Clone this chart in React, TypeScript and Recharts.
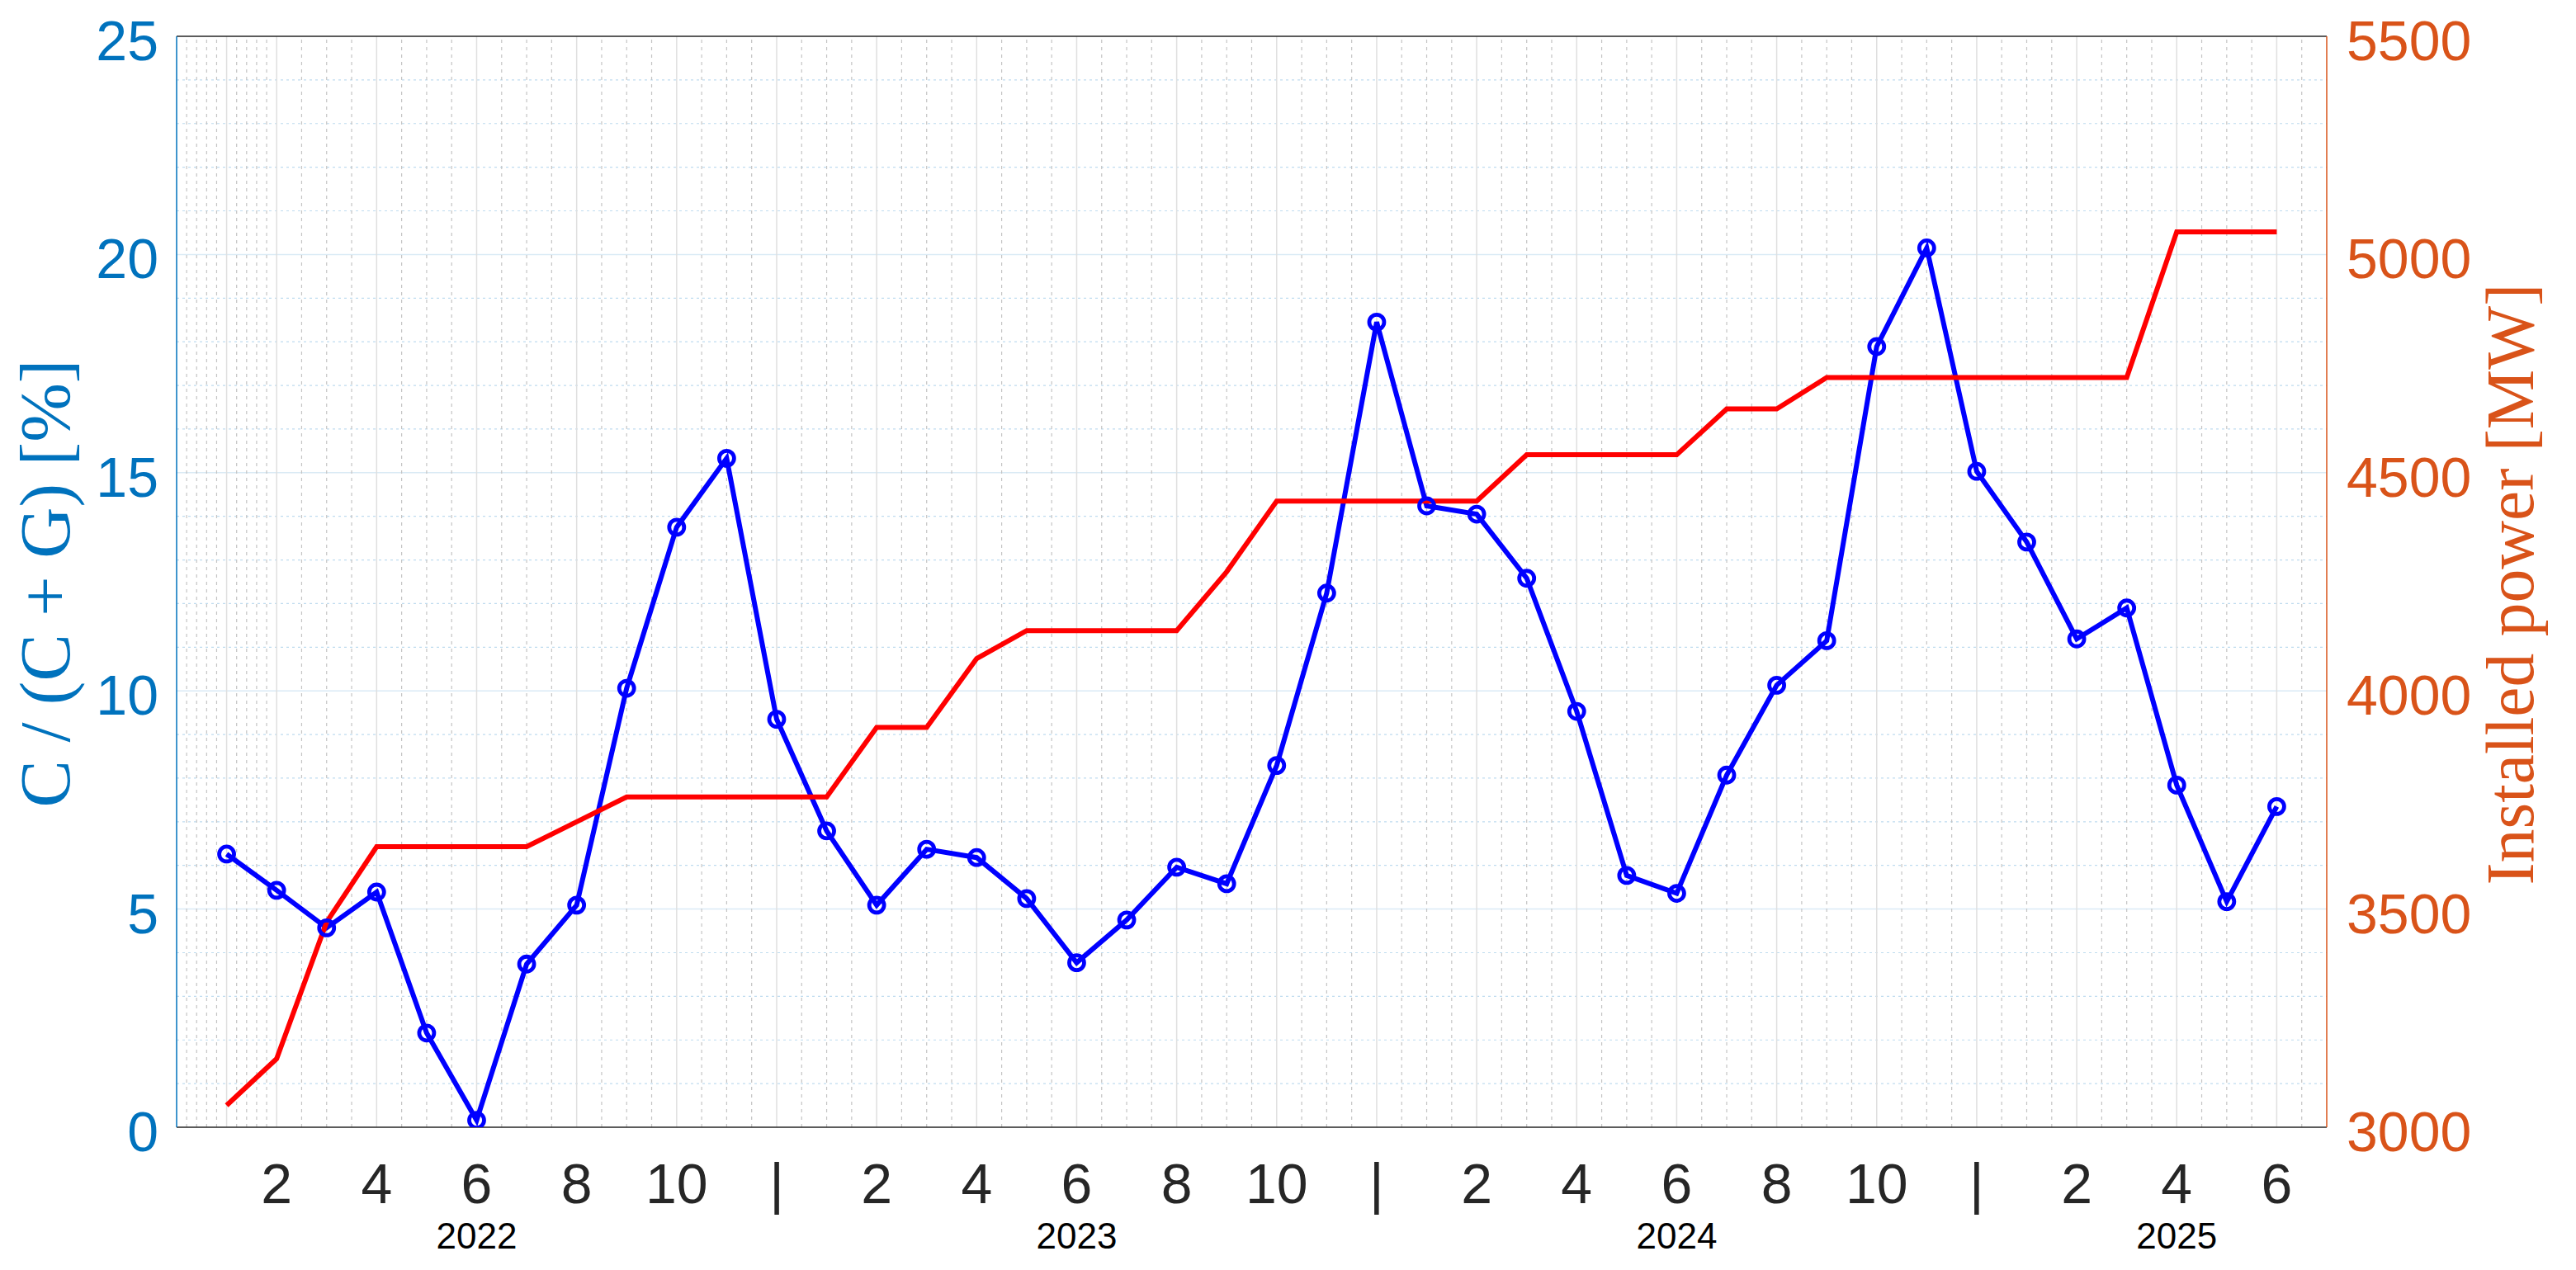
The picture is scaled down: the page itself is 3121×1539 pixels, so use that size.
import React from 'react';
import { ComposedChart, Line, XAxis, YAxis, ReferenceLine } from 'recharts';

// ---- data ----
const monthIdx = [
  0, 1, 2, 3, 4, 5, 6, 7, 8, 9, 10, 11,
  12, 13, 14, 15, 16, 17, 18, 19, 20, 21, 22, 23,
  24, 25, 26, 27, 28, 29, 30, 31, 32, 33, 34, 35,
  36, 37, 38, 39, 40, 41,
];
const ratioPct = [
  6.26, 5.43, 4.57, 5.39, 2.16, 0.16, 3.74, 5.09, 10.06, 13.75, 15.33, 9.35,
  6.79, 5.09, 6.37, 6.18, 5.24, 3.77, 4.75, 5.96, 5.58, 8.29, 12.24, 18.45,
  14.24, 14.05, 12.58, 9.53, 5.77, 5.36, 8.07, 10.13, 11.15, 17.89, 20.15, 15.03,
  13.41, 11.19, 11.9, 7.84, 5.17, 7.35,
];
const installedMW = [
  3050, 3157, 3470, 3643, 3643, 3643, 3643, 3700, 3757, 3757, 3757, 3757,
  3757, 3916, 3916, 4074, 4138, 4138, 4138, 4138, 4273, 4435, 4435, 4435,
  4435, 4435, 4541, 4541, 4541, 4541, 4646, 4646, 4718, 4718, 4718, 4718,
  4718, 4718, 4718, 5052, 5052, 5052,
];
const xTickValues = [1, 3, 5, 7, 9, 11, 13, 15, 17, 19, 21, 23, 25, 27, 29, 31, 33, 35, 37, 39, 41];
const xTickLabels = [
  '2', '4', '6', '8', '10', '|',
  '2', '4', '6', '8', '10', '|',
  '2', '4', '6', '8', '10', '|',
  '2', '4', '6',
];
const yearLabels = ['2022', '2023', '2024', '2025'];
const yearLabelAt = [5, 17, 29, 39];
const leftTicks = [0, 5, 10, 15, 20, 25];
const rightTicks = [3000, 3500, 4000, 4500, 5000, 5500];

const data = monthIdx.map((m, i) => ({ m, ratio: ratioPct[i], power: installedMW[i] }));

// ---- grid positions (axis units) ----
const xMajorGrid = [0, ...xTickValues];
const xMinorGrid: number[] = [-0.8, -0.6, -0.4, -0.2, 0.2, 0.4, 0.6, 0.8];
for (let v = 1.5; v <= 41.5; v += 0.5) {
  if (!(Number.isInteger(v) && v % 2 === 1)) xMinorGrid.push(v);
}
const yMinorGrid: number[] = [];
for (let v = 1; v < 25; v++) if (v % 5 !== 0) yMinorGrid.push(v);
const yMajorGrid = [5, 10, 15, 20];

const BLUE_AX = '#0072BD';
const ORANGE_AX = '#D95319';
const DARK = '#262626';
const SANS = '"Liberation Sans", Arial, Helvetica, sans-serif';
const SERIF = '"Liberation Serif", "Times New Roman", serif';

const XTick = (props: any) => {
  const { x, y, payload } = props;
  const i = xTickValues.indexOf(payload.value);
  const yi = yearLabelAt.indexOf(payload.value);
  return (
    <g>
      <text x={x} y={y + 92} textAnchor="middle" fontFamily={SANS} fontSize={68} fill={DARK}>
        {xTickLabels[i]}
      </text>
      {yi >= 0 && (
        <text x={x} y={y + 147} textAnchor="middle" fontFamily={SANS} fontSize={44} fill="#000">
          {yearLabels[yi]}
        </text>
      )}
    </g>
  );
};

const LeftTick = (props: any) => (
  <text x={props.x} y={props.y + 29} textAnchor="end" fontFamily={SANS} fontSize={68} fill={BLUE_AX}>
    {props.payload.value}
  </text>
);
const RightTick = (props: any) => (
  <text x={props.x} y={props.y + 29} textAnchor="start" fontFamily={SANS} fontSize={68} fill={ORANGE_AX}>
    {props.payload.value}
  </text>
);

const LeftLabel = (props: any) => {
  const vb = props.viewBox;
  const x = vb.x + 76;
  const y = vb.y + vb.height / 2 + 2;
  return (
    <text x={x} y={y} transform={`rotate(-90, ${x}, ${y})`} textAnchor="middle" fontFamily={SERIF} fontSize={86} fill={BLUE_AX}>
      C / (C + G) [%]
    </text>
  );
};
const RightLabel = (props: any) => {
  const vb = props.viewBox;
  const x = vb.x + 250;
  const y = vb.y + vb.height / 2 + 3;
  return (
    <text x={x} y={y} transform={`rotate(-90, ${x}, ${y})`} textAnchor="middle" fontFamily={SERIF} fontSize={81.5} fill={ORANGE_AX}>
      Installed power [MW]
    </text>
  );
};

export default function App() {
  return (
    <div style={{ width: 3105, height: 1523, background: '#fff' }}>
      <ComposedChart width={3105} height={1523} data={data} margin={{ top: 36, right: 0, bottom: 0, left: 0 }}>
        {yMinorGrid.map((v) => (
          <ReferenceLine key={'ym' + v} y={v} yAxisId="left" stroke="#BFDCEF" strokeWidth={1.2} strokeDasharray="3 4" />
        ))}
        {yMajorGrid.map((v) => (
          <ReferenceLine key={'yM' + v} y={v} yAxisId="left" stroke="#D9EAF5" strokeWidth={1.5} />
        ))}
        {xMinorGrid.map((v) => (
          <ReferenceLine key={'xm' + v} x={v} yAxisId="left" stroke="#C4C4C4" strokeWidth={1.2} strokeDasharray="4 5" />
        ))}
        {xMajorGrid.map((v) => (
          <ReferenceLine key={'xM' + v} x={v} yAxisId="left" stroke="#DFDFDF" strokeWidth={1.5} />
        ))}
        <ReferenceLine y={25} yAxisId="left" stroke={DARK} strokeWidth={1.5} />
        <XAxis
          dataKey="m"
          type="number"
          domain={[-1, 42]}
          ticks={xTickValues}
          interval={0}
          allowDataOverflow
          height={165}
          tickSize={0}
          tickMargin={0}
          tickLine={false}
          axisLine={{ stroke: DARK, strokeWidth: 1.5 }}
          tick={XTick}
        />
        <YAxis
          yAxisId="left"
          type="number"
          domain={[0, 25]}
          ticks={leftTicks}
          interval={0}
          allowDataOverflow
          width={206}
          tickSize={0}
          tickMargin={22}
          tickLine={false}
          axisLine={{ stroke: BLUE_AX, strokeWidth: 1.5 }}
          tick={LeftTick}
          label={{ content: LeftLabel }}
        />
        <YAxis
          yAxisId="right"
          orientation="right"
          type="number"
          domain={[3000, 5500]}
          ticks={rightTicks}
          interval={0}
          allowDataOverflow
          width={294}
          tickSize={0}
          tickMargin={24}
          tickLine={false}
          axisLine={{ stroke: ORANGE_AX, strokeWidth: 1.5 }}
          tick={RightTick}
          label={{ content: RightLabel }}
        />
        <Line
          yAxisId="left"
          dataKey="ratio"
          type="linear"
          stroke="#0000FF"
          strokeWidth={6}
          dot={{ r: 9, stroke: '#0000FF', strokeWidth: 4.8, fill: 'none' }}
          activeDot={false}
          isAnimationActive={false}
        />
        <Line
          yAxisId="right"
          dataKey="power"
          type="linear"
          stroke="#FF0000"
          strokeWidth={6}
          dot={false}
          activeDot={false}
          isAnimationActive={false}
        />
      </ComposedChart>
    </div>
  );
}
